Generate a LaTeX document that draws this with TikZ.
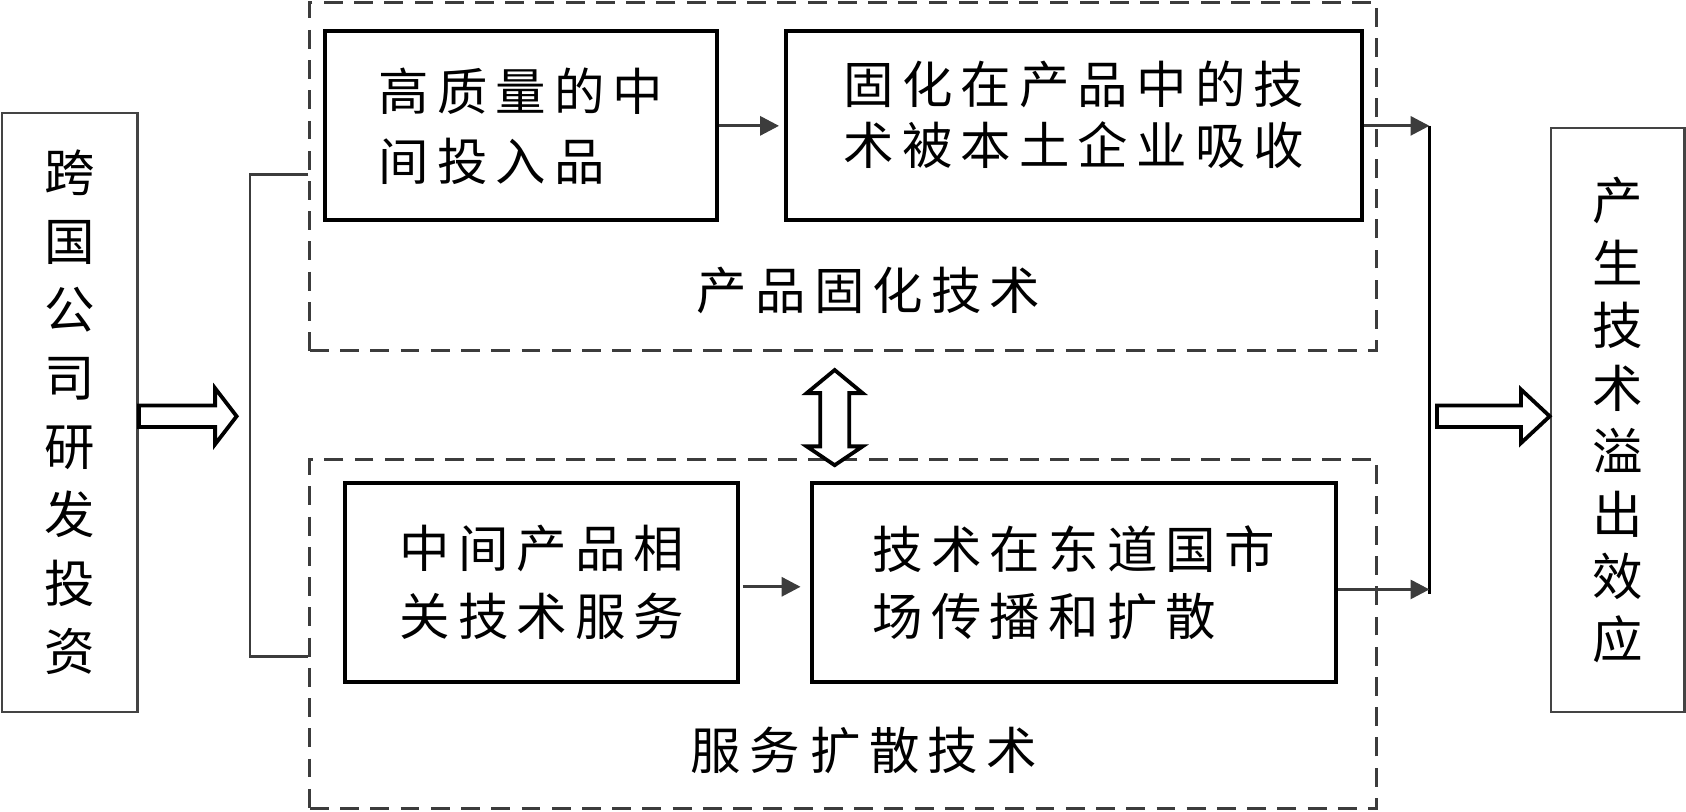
\documentclass[tikz,border=0pt]{standalone}
\usepackage{fontspec}
\newfontfamily\cjk{Noto Sans CJK SC}[LetterSpace=16]
\usetikzlibrary{arrows.meta}
\definecolor{dgray}{HTML}{3C3C3C}
\definecolor{sgray}{HTML}{444444}
\newcommand\cjkf[1]{\cjk\fontsize{26.7pt}{#1}\selectfont}
\begin{document}
\begin{tikzpicture}[x=0.02cm,y=-0.02cm,
  box/.style={draw=black, line width=2.1pt, inner sep=0pt, fill=white},
  sidebox/.style={draw=sgray, line width=1.4pt, inner sep=0pt, align=center},
  group/.style={draw=dgray, line width=1.7pt, dash pattern=on 10pt off 6pt, inner sep=0pt},
  txt/.style={inner sep=0pt},
  arr/.style={draw=dgray, line width=1.7pt, -{Triangle[length=10pt,width=10pt]}},
  link/.style={draw=dgray, line width=1.5pt},
  vline/.style={draw=black, line width=1.4pt},
  hollow/.style={draw=black, line width=2pt, fill=white, line join=miter}]
\useasboundingbox (0,0) rectangle (1567.5,754);

% dashed groups
\node[group, minimum width=19.84cm, minimum height=6.48cm] (g1) at (784,164) {};
\node[group, minimum width=19.84cm, minimum height=6.49cm] (g2) at (784,589.3) {};

% side boxes
\node[sidebox, minimum width=2.52cm, minimum height=11.14cm, font=\cjkf{36.2pt}] (lb) at (65,383.4)
  {跨\\国\\公\\司\\研\\发\\投\\资};
\node[sidebox, minimum width=2.48cm, minimum height=10.86cm, font=\cjkf{33.2pt}] (rb) at (1504,390.5)
  {产\\生\\技\\术\\溢\\出\\效\\应};

% inner boxes
\node[box, minimum width=7.3cm, minimum height=3.52cm, align=left, font=\cjkf{37pt}] (b1) at (484.5,117)
  {高质量的中\\间投入品};
\node[box, minimum width=10.7cm, minimum height=3.52cm] (b2) at (998.5,117) {};
\node[txt, align=center, font=\cjkf{32.4pt}] (t2) at (998.5,106.5)
  {固化在产品中的技\\术被本土企业吸收};
\node[box, minimum width=7.31cm, minimum height=3.7cm, align=center, font=\cjkf{35.6pt}] (b3) at (503.8,541.5)
  {中间产品相\\关技术服务};
\node[box, minimum width=9.75cm, minimum height=3.7cm, align=left, font=\cjkf{35.6pt}] (b4) at (998.3,541.5)
  {技术在东道国市\\场传播和扩散};

% group labels
\node[txt, font=\cjkf{32pt}] (l1) at (807.5,270) {产品固化技术};
\node[txt, font=\cjkf{32pt}] (l2) at (803,698) {服务\kern6pt 扩散技术};

% bracket from left
\coordinate (bt) at (232.5,162);
\coordinate (bb) at (232.5,610.7);
\draw[link] (g1.west |- bt) -- (bt) -- (bb) -- (g2.west |- bb);

% arrows inside groups
\draw[arr, shorten >=2.8pt] (b1.east) -- (b2.west);
\draw[arr, shorten <=1.3pt, shorten >=4.8pt] ([yshift=-2.3pt]b3.east) -- ([yshift=-2.3pt]b4.west);

% collecting line on the right
\coordinate (vt) at (1329,117);
\coordinate (a4) at (1329,548);
\coordinate (vb) at (1329,552);
\draw[vline] (vt) -- (vb);
\draw[arr] (b2.east) -- (vt);
\draw[arr] (b4.east |- a4) -- (a4);

% hollow arrows
\draw[hollow] (lb.east |- 0,377) -- (200,377) -- (200,361) -- (220,387) -- (200,413) -- (200,397) -- (lb.east |- 0,397) -- cycle;
\draw[hollow] (1336,377) -- (1414,377) -- (1414,362) -- (rb.west |- 0,387) -- (1414,412) -- (1414,397) -- (1336,397) -- cycle;
\draw[hollow] (776,344) -- (802,365.5) -- (789.5,365.5) -- (789.5,415) -- (802,415) -- (776,432.5)
  -- (750,415) -- (762.5,415) -- (762.5,365.5) -- (750,365.5) -- cycle;
\end{tikzpicture}
\end{document}
